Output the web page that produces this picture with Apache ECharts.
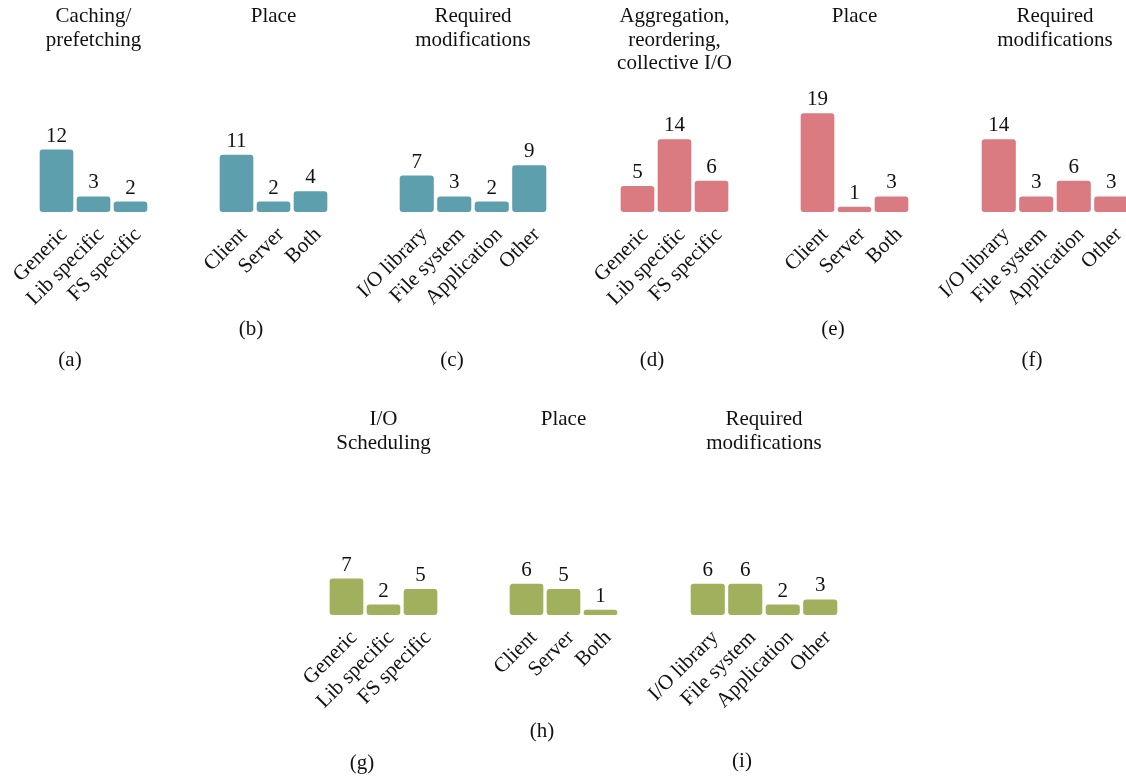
<!DOCTYPE html>
<html>
<head>
<meta charset="utf-8">
<script src="https://cdn.jsdelivr.net/npm/echarts@6/dist/echarts.min.js"></script>
<style>
html,body{margin:0;padding:0;background:#fff;}
#chart{width:1126px;height:778px;}
</style>
</head>
<body>
<div id="chart"></div>
<script>
// ---- categories ----
const typeCategories = ['Generic', 'Lib specific', 'FS specific'];
const placeCategories = ['Client', 'Server', 'Both'];
const modCategories = ['I/O library', 'File system', 'Application', 'Other'];

// ---- values ----
const cachingType = [12, 3, 2];
const cachingPlace = [11, 2, 4];
const cachingMod = [7, 3, 2, 9];
const aggregationType = [5, 14, 6];
const aggregationPlace = [19, 1, 3];
const aggregationMod = [14, 3, 6, 3];
const schedulingType = [7, 2, 5];
const schedulingPlace = [6, 5, 1];
const schedulingMod = [6, 6, 2, 3];

// ---- texts ----
const panelTitles = ['Caching/\nprefetching', 'Place', 'Required\nmodifications',
  'Aggregation,\nreordering,\ncollective I/O', 'Place', 'Required\nmodifications',
  'I/O\nScheduling', 'Place', 'Required\nmodifications'];
const subCaptions = ['(a)', '(b)', '(c)', '(d)', '(e)', '(f)', '(g)', '(h)', '(i)'];

const colorTeal = '#5e9fae';
const colorRed = '#d97b80';
const colorGreen = '#a1b05c';
const FONT = '"Liberation Serif", "DejaVu Serif", serif';
const FS = 21;

const panels = [
  {cats: typeCategories, data: cachingType, color: colorTeal, left: 38, width: 111, row: 0, cap: [70, 360]},
  {cats: placeCategories, data: cachingPlace, color: colorTeal, left: 218, width: 111, row: 0, cap: [251, 329]},
  {cats: modCategories, data: cachingMod, color: colorTeal, left: 398, width: 150, row: 0, cap: [452, 360]},
  {cats: typeCategories, data: aggregationType, color: colorRed, left: 619, width: 111, row: 0, cap: [652, 360]},
  {cats: placeCategories, data: aggregationPlace, color: colorRed, left: 799, width: 111, row: 0, cap: [833, 329]},
  {cats: modCategories, data: aggregationMod, color: colorRed, left: 980, width: 150, row: 0, cap: [1032, 360]},
  {cats: typeCategories, data: schedulingType, color: colorGreen, left: 328, width: 111, row: 1, cap: [362, 763]},
  {cats: placeCategories, data: schedulingPlace, color: colorGreen, left: 508, width: 111, row: 1, cap: [542, 731]},
  {cats: modCategories, data: schedulingMod, color: colorGreen, left: 689, width: 150, row: 1, cap: [742, 761]}
];

const baselines = [212, 615];
const titleTops = [5, 408];
const yMax = 20;
const gridH = 104;

const grids = [], xAxes = [], yAxes = [], series = [], graphics = [];
panels.forEach((p, i) => {
  grids.push({left: p.left, top: baselines[p.row] - gridH, width: p.width, height: gridH, containLabel: false, outerBoundsMode: 'none'});
  xAxes.push({
    type: 'category', gridIndex: i, data: p.cats,
    axisLine: {show: false}, axisTick: {show: false}, splitLine: {show: false},
    axisLabel: {interval: 0, rotate: 45, margin: 12, verticalAlign: 'top', color: '#111', fontFamily: FONT, fontSize: FS}
  });
  yAxes.push({type: 'value', gridIndex: i, min: 0, max: yMax, show: false, splitLine: {show: false}});
  series.push({
    type: 'bar', xAxisIndex: i, yAxisIndex: i, data: p.data,
    barCategoryGap: '9%',
    itemStyle: {color: p.color, borderColor: p.color, borderWidth: 2, borderRadius: 2},
    label: {show: true, position: 'top', distance: 3, color: '#111', fontFamily: FONT, fontSize: FS},
    silent: true, animation: false
  });
  graphics.push({
    type: 'text',
    style: {text: panelTitles[i], x: p.left + p.width / 2, y: titleTops[p.row], textAlign: 'center', textVerticalAlign: 'top',
      fill: '#111', font: FS + 'px ' + FONT, lineHeight: 23.5}
  });
  graphics.push({
    type: 'text',
    style: {text: subCaptions[i], x: p.cap[0], y: p.cap[1], textAlign: 'center', textVerticalAlign: 'middle',
      fill: '#111', font: FS + 'px ' + FONT}
  });
});

const chart = echarts.init(document.getElementById('chart'), null, {renderer: 'canvas'});
chart.setOption({
  animation: false,
  backgroundColor: '#ffffff',
  grid: grids, xAxis: xAxes, yAxis: yAxes, series: series,
  graphic: graphics
});
</script>
</body>
</html>
